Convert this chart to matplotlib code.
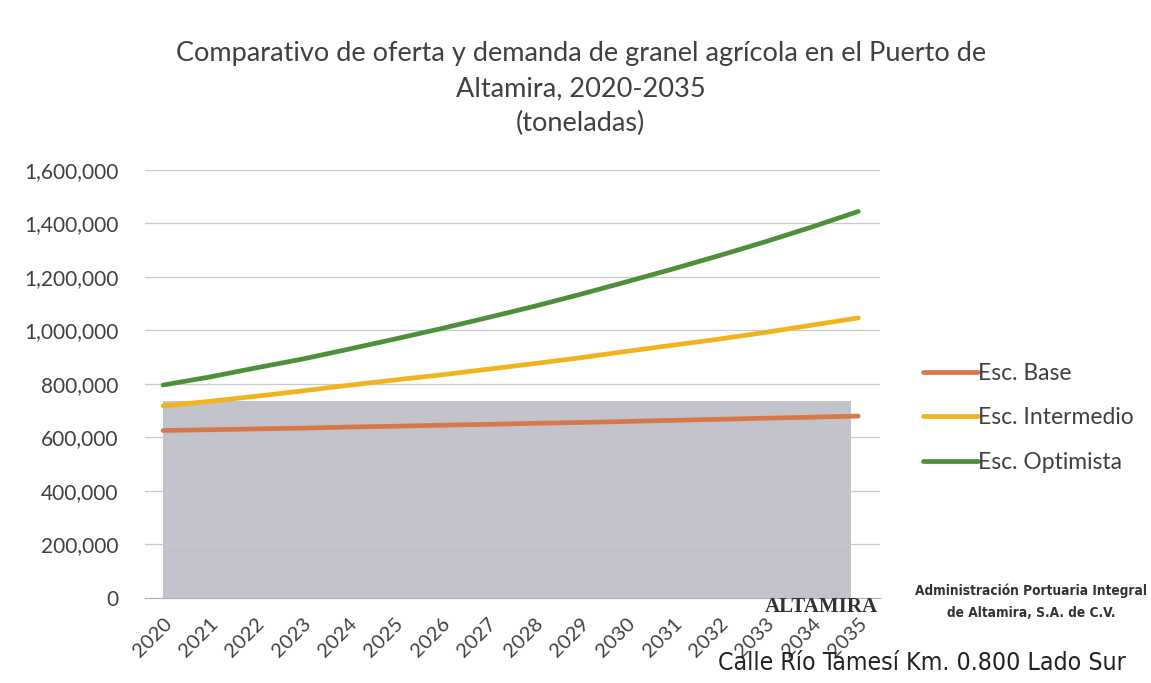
import matplotlib
matplotlib.use("Agg")
import matplotlib.pyplot as plt
from matplotlib.ticker import FuncFormatter

years = list(range(2020, 2036))
esc_base = [626000, 629000, 632000, 635000, 639000, 642000, 646000, 649000,
            653000, 656000, 660000, 664000, 668000, 672000, 676000, 680000]
esc_intermedio = [718000, 735000, 754000, 774000, 795000, 815000, 834000, 855000,
                  876000, 898000, 922000, 945000, 968000, 993000, 1020000, 1047000]
esc_optimista = [796000, 826000, 860000, 893000, 930000, 968000, 1007000, 1048000,
                 1090000, 1135000, 1182000, 1230000, 1280000, 1332000, 1387000, 1445000]
capacidad = [735000] * 16
series_names = ["Esc. Base", "Esc. Intermedio", "Esc. Optimista"]
title = "Comparativo de oferta y demanda de granel agrícola en el Puerto de\nAltamira, 2020-2035\n(toneladas)"

plt.rcParams['font.family'] = ['Lato', 'DejaVu Sans']
txt = '#404040'

fig = plt.figure(figsize=(11.51, 6.83), dpi=100)
ax = fig.add_axes([0.126, 0.1245, 0.6386, 0.6266])

ax.fill_between(years[:-1] + [2034.85], 0, capacidad, color='#c3c3cb', zorder=1, linewidth=0)
ax.plot(years, esc_base, color='#d7784a', lw=3.4, solid_capstyle='round', zorder=3, label=series_names[0])
ax.plot(years, esc_intermedio, color='#f0b420', lw=3.4, solid_capstyle='round', zorder=3, label=series_names[1])
ax.plot(years, esc_optimista, color='#4e8f3a', lw=3.4, solid_capstyle='round', zorder=3, label=series_names[2])

ax.set_xlim(2019.61, 2035.47)
ax.set_ylim(0, 1600000)
ax.set_yticks(range(0, 1600001, 200000))
ax.yaxis.set_major_formatter(FuncFormatter(lambda v, p: f"{int(v):,}"))
ax.grid(axis='y', color='#c8c8d0', lw=0.9, zorder=2)
ax.set_axisbelow(False)
for s in ['top', 'right', 'left']:
    ax.spines[s].set_visible(False)
ax.spines['bottom'].set_color('#b0b0b0')
ax.spines['bottom'].set_zorder(2)
ax.tick_params(axis='y', length=0, pad=19, labelsize=15, labelcolor=txt)
ax.tick_params(axis='x', length=0, pad=12, labelsize=14.5, labelcolor=txt)
ax.set_xticks(years)
ax.set_xticklabels([str(y) for y in years], rotation=45, ha='right', rotation_mode='anchor')

fig.text(0.5045, 0.94, title, ha='center', va='top', fontsize=19.5, color=txt, linespacing=1.5)

leg = fig.legend(loc='upper left', bbox_to_anchor=(0.784, 0.499), frameon=False,
                 fontsize=16.5, labelcolor=txt, handlelength=2.4, handletextpad=0.0,
                 labelspacing=1.02)

fig.text(0.896, 0.1185, "Administración Portuaria Integral\nde Altamira, S.A. de C.V.", ha='center', va='center',
         fontsize=9.8, color='#333333', family='DejaVu Sans', fontstretch='condensed',
         fontweight='bold', linespacing=1.75)
fig.text(0.714, 0.112, "ALTAMIRA", ha='center', va='center', fontsize=15, color='#333333',
         family=['Liberation Serif', 'DejaVu Serif'], fontweight='bold')
fig.text(0.801, 0.029, "Calle Río Tamesí Km. 0.800 Lado Sur", ha='center', va='center',
         fontsize=17.8, color='#222222', family='DejaVu Sans', fontstretch='condensed')

fig.savefig('out.png', dpi=100)
